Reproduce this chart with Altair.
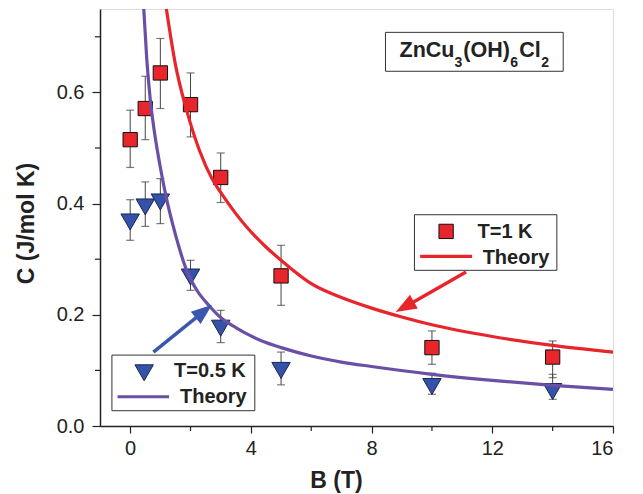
import altair as alt
import pandas as pd

# ---------------- data ----------------
# T = 1 K (red squares)
b_1k = [0, 0.5, 1, 2, 3, 5, 10, 14]
c_1k = [0.515, 0.571, 0.635, 0.578, 0.447, 0.270, 0.141, 0.124]
c_1k_hi = [0.568, 0.629, 0.697, 0.635, 0.491, 0.325, 0.171, 0.153]
c_1k_lo = [0.465, 0.515, 0.571, 0.520, 0.402, 0.217, 0.111, 0.087]

# T = 0.5 K (blue triangles)
b_05k = [0, 0.5, 1, 2, 3, 5, 10, 14]
c_05k = [0.367, 0.394, 0.403, 0.268, 0.176, 0.100, 0.071, 0.062]
c_05k_hi = [0.407, 0.439, 0.445, 0.298, 0.208, 0.133, 0.095, 0.093]
c_05k_lo = [0.334, 0.359, 0.364, 0.244, 0.150, 0.074, 0.057, 0.048]

# Theory curves
theory_1k_b = [1.2, 1.5, 1.87, 2.3, 2.7, 3.0, 3.5, 3.86, 4.5, 5, 6, 7, 8, 9, 10, 12, 14, 16]
theory_1k_c = [0.75, 0.65, 0.568, 0.495, 0.446, 0.42, 0.382, 0.358, 0.322, 0.298,
               0.256, 0.231, 0.212, 0.196, 0.182, 0.161, 0.145, 0.133]
theory_05k_b = [0.45, 0.55, 0.66, 0.8, 1.0, 1.2, 1.4, 1.6, 1.87, 2.2, 2.64, 3.0, 3.5,
                4.0, 4.5, 5, 6, 7, 8, 10, 12, 14, 16]
theory_05k_c = [0.75, 0.66, 0.59, 0.53, 0.465, 0.41, 0.365, 0.325, 0.28, 0.245, 0.215,
                0.195, 0.177, 0.162, 0.150, 0.141, 0.126, 0.115, 0.107, 0.093, 0.082,
                0.073, 0.066]

x_ticks = [0, 4, 8, 12, 16]
x_minor = [2, 6, 10, 14]
y_ticks = [0.0, 0.2, 0.4, 0.6]
y_minor = [0.1, 0.3, 0.5, 0.7]

# annotations (data coordinates)
arrow_shaft = pd.DataFrame({
    "B": [0.77, 11.13], "C": [0.133, 0.277],
    "B2": [2.185, 9.39], "C2": [0.195, 0.2231],
    "col": ["#3a56b0", "#e8252b"]})
arrow_head = pd.DataFrame({
    "B": [2.443, 9.10], "C": [0.2062, 0.2143],
    "ang": [51.4, 240.2], "col": ["#3a56b0", "#e8252b"]})

boxes = pd.DataFrame({
    "B": [9.42, -0.605, 8.46], "B2": [14.14, 4.13, 14.35],
    "C": [0.280, 0.0275, 0.638], "C2": [0.380, 0.1275, 0.708]})

legend_text = pd.DataFrame({
    "B": [11.51, 11.68, 1.455, 1.653],
    "C": [0.339, 0.292, 0.0875, 0.0419],
    "t": ["T=1 K", "Theory", "T=0.5 K", "Theory"]})
legend_lines = pd.DataFrame({
    "B": [9.61, -0.42], "B2": [11.33, 1.29], "C": [0.305, 0.0526],
    "col": ["#e8252b", "#6a4fa6"]})
legend_sq = pd.DataFrame({"B": [10.47], "C": [0.350]})
legend_tri = pd.DataFrame({"B": [0.463], "C": [0.0957]})

formula_big = pd.DataFrame({"B": [8.926, 11.041, 12.893], "C": [0.6634] * 3,
                            "t": ["ZnCu", "(OH)", "Cl"]})
formula_sub = pd.DataFrame({"B": [10.744, 12.595, 13.620], "C": [0.6454] * 3,
                            "t": ["3", "6", "2"]})

# ---------------- chart ----------------
W, H = 513, 417
FONT = "Liberation Sans"
RED = "#e8252b"
BLUE = "#3453a8"
PURPLE = "#6a4fa6"

xs = alt.Scale(domain=[-1, 16], nice=False, zero=False)
ys = alt.Scale(domain=[0, 0.75], nice=False, zero=False)

x_axis = alt.Axis(values=x_ticks, title="B (T)", grid=False, tickSize=7,
                  labelFontSize=20, labelFont=FONT, labelColor="#222",
                  labelPadding=5, titleFont=FONT, titleFontSize=23,
                  titleFontWeight="bold", titleColor="#222", titleX=236,
                  titleY=61, titleBaseline="alphabetic", titleAnchor="start",
                  titleAlign="center", domainColor="#222", tickColor="#222",
                  domainWidth=1.5, tickWidth=1.2)
y_axis = alt.Axis(values=y_ticks, format=".1f", title="C (J/mol K)", grid=False,
                  tickSize=8, labelFontSize=20, labelFont=FONT, labelColor="#222",
                  labelPadding=8, titleFont=FONT, titleFontSize=23,
                  titleFontWeight="bold", titleColor="#222", titleX=-67,
                  titleY=214, titleBaseline="alphabetic", titleAlign="center",
                  titleAngle=-90, domainColor="#222", tickColor="#222",
                  domainWidth=1.5, tickWidth=1.2)


def X(f="B"):
    return alt.X(f"{f}:Q", scale=xs, axis=x_axis)


def Y(f="C"):
    return alt.Y(f"{f}:Q", scale=ys, axis=y_axis)


df1 = pd.DataFrame({"B": b_1k, "C": c_1k, "hi": c_1k_hi, "lo": c_1k_lo})
df05 = pd.DataFrame({"B": b_05k, "C": c_05k, "hi": c_05k_hi, "lo": c_05k_lo})
th1 = pd.DataFrame({"B": theory_1k_b, "C": theory_1k_c})
th05 = pd.DataFrame({"B": theory_05k_b, "C": theory_05k_c})

layers = []
for d in (df1, df05):
    base = alt.Chart(d)
    layers.append(base.mark_rule(color="#444", strokeWidth=1).encode(
        x=X(), y=alt.Y("lo:Q", scale=ys, axis=y_axis), y2="hi:Q"))
    layers.append(base.mark_tick(orient="horizontal", color="#444", size=8,
                                 thickness=1.2).encode(
        x=X(), y=alt.Y("lo:Q", scale=ys, axis=y_axis)))
    layers.append(base.mark_tick(orient="horizontal", color="#444", size=8,
                                 thickness=1.2).encode(
        x=X(), y=alt.Y("hi:Q", scale=ys, axis=y_axis)))

layers.append(alt.Chart(df1).mark_point(shape="square", filled=True, fill=RED,
                                        stroke="#111", strokeWidth=1, size=205,
                                        opacity=1).encode(x=X(), y=Y()))
layers.append(alt.Chart(df05).mark_point(shape="triangle-down", filled=True,
                                         fill=BLUE, stroke="#1a2550",
                                         strokeWidth=1, size=340,
                                         opacity=1).encode(x=X(), y=Y()))

layers.append(alt.Chart(th1).mark_line(color=RED, strokeWidth=3.2,
                                       interpolate="monotone").encode(x=X(), y=Y()))
layers.append(alt.Chart(th05).mark_line(color=PURPLE, strokeWidth=3.2,
                                        interpolate="monotone").encode(x=X(), y=Y()))

# arrows
layers.append(alt.Chart(arrow_shaft).mark_rule(strokeWidth=3.5).encode(
    x=X(), y=Y(), x2="B2:Q", y2="C2:Q",
    color=alt.Color("col:N", scale=None)))
layers.append(alt.Chart(arrow_head).mark_point(
    shape="M0,-1L0.75,1L-0.75,1Z", filled=True, size=440, opacity=1).encode(
    x=X(), y=Y(), angle=alt.Angle("ang:Q", scale=None),
    color=alt.Color("col:N", scale=None)))

# boxes
layers.append(alt.Chart(boxes).mark_rect(fill="white", stroke="#333",
                                         strokeWidth=1).encode(
    x=X(), x2="B2:Q", y=Y(), y2="C2:Q"))

# legend content
layers.append(alt.Chart(legend_lines).mark_rule(strokeWidth=3.2).encode(
    x=X(), x2="B2:Q", y=Y(), color=alt.Color("col:N", scale=None)))
layers.append(alt.Chart(legend_sq).mark_point(shape="square", filled=True, fill=RED,
                                              stroke="#111", strokeWidth=1, size=205,
                                              opacity=1).encode(x=X(), y=Y()))
layers.append(alt.Chart(legend_tri).mark_point(shape="triangle-down", filled=True,
                                               fill=BLUE, stroke="#1a2550",
                                               strokeWidth=1, size=340,
                                               opacity=1).encode(x=X(), y=Y()))
layers.append(alt.Chart(legend_text).mark_text(
    align="left", baseline="alphabetic", font=FONT, fontSize=20,
    fontWeight="bold", color="#222").encode(x=X(), y=Y(), text="t:N"))
layers.append(alt.Chart(formula_big).mark_text(
    align="left", baseline="alphabetic", font=FONT, fontSize=21.5,
    fontWeight="bold", color="#222").encode(x=X(), y=Y(), text="t:N"))
layers.append(alt.Chart(formula_sub).mark_text(
    align="left", baseline="alphabetic", font=FONT, fontSize=14,
    fontWeight="bold", color="#222").encode(x=X(), y=Y(), text="t:N"))

# minor ticks
layers.append(alt.Chart(pd.DataFrame({"C": y_minor})).mark_rule(
    color="#222", strokeWidth=1.2).encode(
    y=Y(), x=alt.value(-5), x2=alt.value(0)))
layers.append(alt.Chart(pd.DataFrame({"B": x_minor})).mark_rule(
    color="#222", strokeWidth=1.2).encode(
    x=X(), y=alt.value(H), y2=alt.value(H + 5)))

chart = alt.layer(*layers).properties(
    width=W, height=H, autosize="none",
    padding={"left": 92, "top": 1, "right": 22, "bottom": 67},
).configure_view(stroke="#222", strokeWidth=1.5).configure(background="white")

chart.save("out.html", embed_options={"renderer": "svg", "actions": False})
